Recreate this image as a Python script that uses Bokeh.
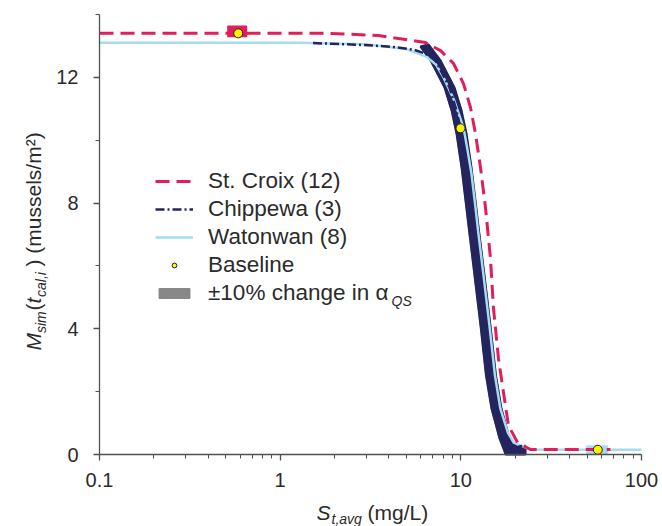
import numpy as np
from bokeh.plotting import figure
from bokeh.models import (Range1d, FixedTicker, CustomJSTickFormatter, Legend,
                          LegendItem, Label, SingleIntervalTicker, LogAxis,
                          LinearAxis)
from bokeh.embed import file_html
from bokeh.resources import INLINE

# ---------------- data ----------------
STC_S = [0.1, 0.586, 1.85, 3.50, 6.37, 7.72, 9.11, 10.34, 11.31, 12.05, 12.85,
         13.69, 14.59, 15.16, 16.16, 17.22, 18.35, 20.59, 24.3, 67.3]
STC_M = [13.40, 13.40, 13.40, 13.33, 13.11, 12.85, 12.44, 11.80, 11.04, 10.21,
         9.13, 7.86, 6.24, 4.65, 3.05, 1.97, 0.92, 0.38, 0.16, 0.16]

CHP_S = [1.52, 2.9, 4.2, 5.5, 6.4, 7.24, 8.65, 9.46, 10.09, 10.75, 11.31,
         11.83, 12.68, 13.69, 14.69, 15.75, 17.45, 18.60, 22.8]
CHP_M = [13.09, 13.03, 12.97, 12.88, 12.75, 12.54, 11.68, 10.95, 10.21, 9.13,
         8.08, 7.13, 5.70, 4.10, 2.51, 1.46, 0.51, 0.19, 0.29]

WAT_S = [0.1, 1.3, 3.0, 5.0, 6.5, 7.3, 8.02, 9.2, 10.35, 10.9, 11.45, 12.05,
         12.45, 13.35, 14.4, 15.45, 16.55, 18.2, 19.6, 24.3, 100.0]
WAT_M = [13.10, 13.10, 13.05, 12.9, 12.65, 12.4, 12.0, 11.26, 10.40, 9.67,
         8.94, 7.86, 7.13, 5.70, 4.10, 2.51, 1.46, 0.70, 0.38, 0.16, 0.15]

# +/-10% alpha_QS envelope for Chippewa (left edge, right edge)
CHP_LO_S = [5.98, 6.79, 8.12, 8.88, 9.46, 10.09, 10.61, 11.10, 11.90, 12.85,
            13.78, 14.78, 16.37, 17.22, 17.67]
CHP_LO_M = [12.98, 12.54, 11.68, 10.95, 10.21, 9.13, 8.08, 7.13, 5.70, 4.10,
            2.51, 1.46, 0.51, 0.19, 0.0]
CHP_HI_S = [6.62, 7.72, 9.22, 10.09, 10.75, 11.46, 12.05, 12.60, 13.52, 14.59,
            15.65, 16.79, 18.60, 20.33, 22.8, 22.8]
CHP_HI_M = [13.05, 12.54, 11.68, 10.95, 10.21, 9.13, 8.08, 7.13, 5.70, 4.10,
            2.51, 1.46, 0.51, 0.25, 0.22, 0.0]

# +/-10% envelopes for St. Croix and Watonwan (small boxes round baseline)
STC_BOX = dict(left=[0.509], right=[0.657], bottom=[13.28], top=[13.65])
WAT_BOX = dict(left=[49.4], right=[65.4], bottom=[0.0], top=[0.29])

BASE_S = [0.586, 9.96, 57.3]
BASE_M = [13.40, 10.38, 0.15]

X_TICKS = [0.1, 1, 10, 100]
X_MINOR = [0.2, 0.3, 0.4, 0.5, 0.6, 0.7, 0.8, 0.9, 2, 3, 4, 5, 6, 7, 8, 9,
           20, 30, 40, 50, 60, 70, 80, 90]
X_LIMITS = (0.1, 100)
Y_LIMITS = (0, 14)

LABELS = ["St. Croix (12)", "Chippewa (3)", "Watonwan (8)", "Baseline",
          "\u00b110% change in \u03b1"]

# ---------------- layout geometry (pixels) ----------------
W, H = 662, 526
FX0, FX1 = 99, 641     # pixel columns of x = 0.1 and x = 100
FY0, FY1 = 454, 14     # pixel rows of y = 0 and y = 14
dec = (FX1 - FX0) / np.log10(X_LIMITS[1] / X_LIMITS[0])
xr0 = X_LIMITS[0] * 10 ** (-FX0 / dec)
xr1 = X_LIMITS[1] * 10 ** ((W - FX1) / dec)
ppu = (FY0 - FY1) / (Y_LIMITS[1] - Y_LIMITS[0])
yr0 = Y_LIMITS[0] - (H - FY0) / ppu
yr1 = Y_LIMITS[1] + FY1 / ppu

# ---------------- style ----------------
FONT = "Liberation Sans"
TXT = "#2b2b2b"
AX = "#505050"
CRIMSON = "#E01E5A"
NAVY = "#24245F"
LBLUE = "#A6DCEF"
GRAY = "#888888"

p = figure(width=W, height=H, x_axis_type="log", title=None,
           x_axis_location=None, y_axis_location=None,
           x_range=Range1d(xr0, xr1), y_range=Range1d(yr0, yr1),
           output_backend="svg", toolbar_location=None,
           min_border_left=0, min_border_right=0,
           min_border_top=0, min_border_bottom=0)
p.outline_line_color = None
p.xgrid.visible = False
p.ygrid.visible = False

xa = LogAxis(fixed_location=Y_LIMITS[0], bounds=X_LIMITS,
             ticker=FixedTicker(ticks=X_TICKS, minor_ticks=X_MINOR),
             formatter=CustomJSTickFormatter(
                 code="return tick < 1 ? tick.toFixed(1) : tick.toFixed(0);"))
ya = LinearAxis(fixed_location=X_LIMITS[0], bounds=Y_LIMITS,
                ticker=SingleIntervalTicker(interval=4, num_minor_ticks=2))
for ax in (xa, ya):
    ax.axis_line_color = AX
    ax.axis_line_width = 1.3
    ax.major_tick_line_color = AX
    ax.minor_tick_line_color = AX
    ax.major_tick_line_width = 1.3
    ax.minor_tick_line_width = 1.0
    ax.major_tick_out = 6
    ax.major_tick_in = 0
    ax.minor_tick_out = 4
    ax.minor_tick_in = 0
    ax.major_label_text_font = FONT
    ax.major_label_text_font_size = "20px"
    ax.major_label_text_color = TXT
xa.major_label_standoff = 12
ya.major_label_standoff = 15
p.add_layout(xa, "below")
p.add_layout(ya, "left")

# ---------------- marks ----------------
band_x = CHP_LO_S + CHP_HI_S[::-1]
band_y = CHP_LO_M + CHP_HI_M[::-1]
# generic (grey) envelope key, fully covered by the coloured envelope
swatch = p.patch(band_x, band_y, fill_color=GRAY, line_color=GRAY, line_width=1.5)
p.patch(band_x, band_y, fill_color=NAVY, line_color=NAVY, line_width=2)

wat = p.line(WAT_S, WAT_M, line_color=LBLUE, line_width=2.5)
p.quad(**WAT_BOX, fill_color=LBLUE, line_color=None)
chp = p.line(CHP_S, CHP_M, line_color=NAVY, line_width=2.5, line_dash="9 3 2 3")
stc = p.line(STC_S, STC_M, line_color=CRIMSON, line_width=3, line_dash="14 7")
p.quad(**STC_BOX, fill_color=CRIMSON, line_color=None)
base = p.scatter(BASE_S, BASE_M, size=9, fill_color="#FFF200",
                 line_color="#222222", line_width=1)

legend = Legend(items=[LegendItem(label=LABELS[0], renderers=[stc]),
                       LegendItem(label=LABELS[1], renderers=[chp]),
                       LegendItem(label=LABELS[2], renderers=[wat]),
                       LegendItem(label=LABELS[3], renderers=[base]),
                       LegendItem(label=LABELS[4], renderers=[swatch])],
                location=(155, 220), padding=0, margin=0, spacing=2,
                border_line_color=None, background_fill_alpha=0,
                glyph_width=38, glyph_height=12, label_standoff=15,
                label_height=20,
                label_text_font=FONT, label_text_font_size="22.5px",
                label_text_color=TXT)
p.add_layout(legend)

# ---------------- composite texts (pixel offsets from the axes' corner) ----------------
def add_text(text, px, py, size, italic=False, angle=0.0):
    p.add_layout(Label(x=X_LIMITS[0], y=Y_LIMITS[0],
                       x_offset=px - FX0, y_offset=FY0 - py,
                       text=text, text_font=FONT, text_font_size=f"{size}px",
                       text_font_style="italic" if italic else "normal",
                       text_color=TXT, angle=angle, text_align="left",
                       text_baseline="middle"))

# legend subscript
add_text("QS", 391, 300, 14, italic=True)

# x axis title: S_t,avg (mg/L)
add_text("S", 316, 512, 21, italic=True)
add_text("t,avg", 331, 518, 14, italic=True)
add_text("(mg/L)", 367, 512, 21)

# y axis title: M_sim(t_cal,i ) (mussels/m²), rotated
R = np.pi / 2
add_text("M", 33, 350, 21, italic=True, angle=R)
add_text("sim", 40, 332.5, 14, italic=True, angle=R)
add_text("(", 33, 310, 21, angle=R)
add_text("t", 33, 303, 21, italic=True, angle=R)
add_text("cal,i", 40, 296.5, 14, italic=True, angle=R)
add_text(") (mussels/m\u00b2)", 33, 266, 21, angle=R)

open("out.html", "w").write(file_html(p, INLINE))
